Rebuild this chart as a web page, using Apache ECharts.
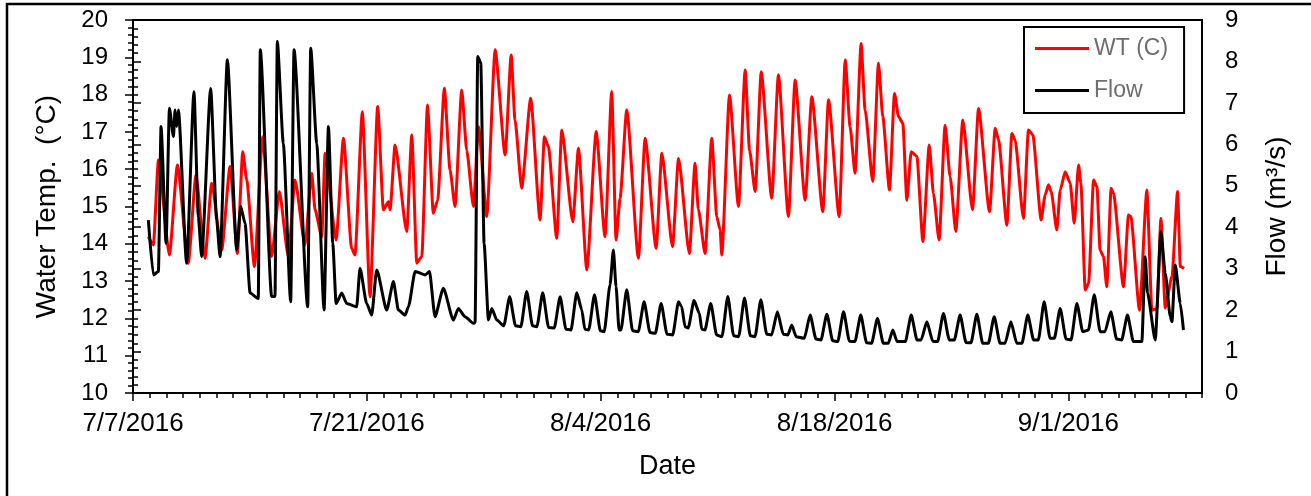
<!DOCTYPE html>
<html><head><meta charset="utf-8">
<script src="https://cdn.jsdelivr.net/npm/echarts@6/dist/echarts.min.js"></script>
<style>html,body{margin:0;padding:0;background:#fff}#c{width:1311px;height:496px}</style>
</head><body><div id="c"></div>
<script>
// days since 7/7/2016 00:00 and water temperature (°C)
const wtDay = [0.92,1.22,1.52,2.18,2.66,3.31,3.77,4.31,4.71,5.31,5.81,6.25,6.57,6.81,7.27,7.76,8.30,8.76,9.30,9.70,10.30,10.70,10.90,11.30,11.50,12.16,12.60,13.09,13.29,13.73,14.19,14.65,14.99,15.29,15.39,15.69,16.39,16.69,16.99,17.29,17.63,17.98,18.24,18.64,18.98,19.28,19.68,19.98,20.38,20.68,21.18,21.68,22.28,22.64,22.87,23.27,23.81,24.37,24.63,24.87,25.37,25.67,26.33,26.67,27.17,27.73,28.26,28.66,28.92,29.16,29.56,30.26,30.66,31.32,31.66,32.30,32.66,33.31,33.65,33.85,34.25,34.65,34.95,35.15,35.25,35.71,36.25,36.65,36.91,37.25,37.61,38.24,38.64,39.24,39.64,40.24,40.64,41.30,41.64,42.28,42.64,42.93,43.23,43.59,43.83,44.29,44.63,44.89,45.29,45.59,45.83,46.09,46.33,46.59,46.93,47.29,47.67,47.92,48.26,48.62,48.92,49.26,49.68,50.26,50.62,51.28,51.62,51.82,52.32,52.62,52.81,53.31,53.61,53.87,54.37,54.61,54.81,54.97,55.31,55.51,55.81,56.11,56.35,56.61,56.75,57.01,57.21,57.51,57.71,57.90,58.10,58.30,58.56,58.70,59.30,59.60,59.74,60.26,60.70,61.00,61.30,61.54,61.80,62.20,62.54,62.70,62.93];
const wtTemp = [14.19,13.97,16.25,13.70,16.11,13.48,15.84,13.61,15.62,13.83,16.07,13.74,16.47,15.71,13.39,16.87,13.66,15.40,13.66,15.71,13.97,15.89,14.91,14.19,16.43,14.10,16.83,13.88,13.70,17.54,12.58,17.68,14.91,15.13,14.91,16.65,14.33,16.92,13.48,13.66,17.72,14.82,15.17,18.17,15.98,15.00,18.12,16.51,15.00,17.14,14.73,19.20,16.38,19.06,17.32,15.49,17.90,14.64,16.87,16.60,14.15,17.05,14.59,16.56,13.30,17.01,14.19,18.08,14.10,15.22,17.59,13.61,16.83,13.88,16.43,13.92,16.29,13.74,16.16,14.91,13.74,16.83,14.73,14.37,13.70,17.99,15.00,18.66,16.51,15.40,18.61,15.22,18.53,14.73,18.39,15.17,17.94,14.86,17.86,14.73,18.93,17.14,15.89,19.37,17.59,15.67,18.84,17.41,15.44,18.03,17.41,17.23,15.17,16.47,16.34,14.06,16.65,15.35,14.10,17.18,15.80,14.33,17.32,14.91,17.63,14.86,17.10,16.78,14.50,16.96,16.78,14.68,17.05,16.92,14.64,15.31,15.58,15.40,14.37,15.44,15.93,15.62,14.55,16.11,15.62,12.76,12.94,15.71,15.53,13.83,13.66,12.85,15.49,15.35,12.85,14.77,14.73,12.22,15.44,12.22,12.26,14.68,12.28,13.12,15.40,13.39,13.34];
// days since 7/7/2016 00:00 and flow (m³/s)
const flowDay = [0.92,1.22,1.52,1.68,1.98,2.18,2.42,2.52,2.62,2.72,3.21,3.65,3.91,4.11,4.65,5.01,5.21,5.65,6.21,6.45,6.71,7.01,7.50,7.62,8.30,8.50,8.64,9.00,9.44,9.64,10.46,10.64,11.00,11.44,11.70,11.96,12.16,12.50,12.79,13.39,13.59,13.99,14.29,14.59,15.19,15.59,15.89,16.29,16.49,16.89,17.49,17.75,18.08,18.58,19.18,19.48,19.88,20.38,20.48,20.64,20.82,21.02,21.28,21.48,21.78,
  22.20,22.55,22.90,23.22,23.57,23.92,24.18,24.53,24.88,25.22,25.57,25.92,26.22,26.57,26.87,27.05,27.28,27.63,27.98,28.21,28.56,28.76,28.92,29.10,29.21,29.56,29.91,30.25,30.60,30.95,31.27,31.62,31.97,32.31,32.66,32.85,33.05,33.24,33.59,33.91,34.05,34.24,34.59,34.94,35.26,35.61,35.96,36.26,36.61,36.96,37.24,37.59,37.94,38.23,38.58,38.93,39.20,39.44,39.70,40.19,40.54,40.89,41.19,41.54,41.89,42.19,42.54,42.89,43.22,43.57,43.92,44.22,44.57,44.92,45.22,45.49,45.75,46.24,46.59,46.94,47.18,47.53,47.88,48.17,48.52,48.87,49.17,49.52,49.87,50.17,50.52,50.87,51.21,51.56,51.91,52.21,52.56,52.91,53.22,53.57,53.92,54.20,54.55,54.90,55.16,55.51,55.86,56.16,56.51,56.86,57.20,57.55,57.90,58.19,58.54,58.89,59.19,59.54,59.89,60.40,60.60,60.74,61.20,61.54,61.80,62.10,62.20,62.40,62.70,62.89];
const flowRate = [4.17,2.85,2.93,6.43,3.61,6.87,6.19,6.83,6.43,6.83,3.13,7.27,4.25,3.29,7.35,4.17,3.29,8.04,3.45,4.50,4.09,2.41,2.28,8.28,2.33,2.33,8.48,6.02,2.20,8.28,2.08,8.32,6.02,2.00,6.43,3.61,2.16,2.41,2.16,2.08,3.01,2.16,1.88,2.97,2.00,2.69,2.00,1.88,2.08,2.93,2.85,2.93,1.84,2.53,1.76,2.04,1.84,1.68,1.70,8.12,7.96,3.61,1.76,2.04,1.76,
  1.62,2.32,1.62,1.60,2.45,1.62,1.60,2.42,1.58,1.57,2.32,1.54,1.52,2.42,2.00,1.54,1.52,2.37,1.50,1.48,2.61,3.45,2.57,1.52,1.52,2.49,1.50,1.48,2.20,1.46,1.44,2.16,1.42,1.40,2.20,2.08,1.60,1.57,2.23,1.92,1.54,1.52,2.16,1.40,1.36,2.33,1.38,1.36,2.29,1.38,1.36,2.25,1.42,1.40,1.96,1.42,1.40,1.64,1.36,1.32,1.88,1.30,1.28,1.90,1.26,1.24,1.96,1.25,1.24,1.88,1.21,1.20,1.80,1.20,1.20,1.52,1.24,1.24,1.88,1.28,1.28,1.72,1.25,1.24,1.92,1.28,1.28,1.88,1.22,1.21,1.90,1.20,1.20,1.84,1.20,1.20,1.72,1.20,1.20,1.88,1.28,1.28,2.20,1.32,1.32,2.04,1.30,1.28,2.16,1.48,1.52,2.37,1.48,1.48,1.96,1.30,1.28,1.88,1.24,1.24,3.29,2.41,1.28,3.89,2.89,1.84,1.72,3.09,2.16,1.52];
const xTickLabels = ['7/7/2016','7/21/2016','8/4/2016','8/18/2016','9/1/2016'];
const seriesNames = ['WT (C)', 'Flow'];

const font = '"Liberation Sans", Arial, sans-serif';
const chart = echarts.init(document.getElementById('c'), null, {renderer: 'canvas'});
const tickLine = {color: '#000', width: 1.5};
chart.setOption({
  animation: false,
  backgroundColor: '#fff',
  textStyle: {fontFamily: font},
  graphic: [{
    type: 'rect', silent: true, z: -10,
    shape: {x: 7, y: 4, width: 1400, height: 700},
    style: {fill: 'none', stroke: '#000', lineWidth: 2.5}
  }],
  grid: {left: 133, right: 109, top: 20, bottom: 103, show: true, borderColor: '#000', borderWidth: 2, backgroundColor: 'transparent'},
  legend: {
    orient: 'vertical', left: 1024, top: 27,
    padding: [10, 16, 11, 11], itemGap: 19, itemWidth: 54, itemHeight: 3,
    borderColor: '#000', borderWidth: 2, backgroundColor: '#fff',
    icon: 'rect',
    textStyle: {fontSize: 23, color: '#6e6e6e', fontFamily: font},
    data: seriesNames
  },
  xAxis: [
    {type: 'value', min: 0, max: 64, interval: 1, position: 'bottom',
     axisLine: {show: true, lineStyle: {color: '#000', width: 2}},
     axisTick: {show: true, length: 5, lineStyle: tickLine},
     axisLabel: {show: false}, splitLine: {show: false}},
    {type: 'value', min: 0, max: 64, interval: 14, position: 'bottom',
     axisLine: {show: false},
     axisTick: {show: true, length: 8, lineStyle: tickLine},
     axisLabel: {fontSize: 26, color: '#000', margin: 18, showMaxLabel: false,
       formatter: v => (Number.isInteger(v / 14) && xTickLabels[v / 14]) ? xTickLabels[v / 14] : ''},
     splitLine: {show: false},
     name: 'Date', nameLocation: 'middle', nameGap: 60,
     nameTextStyle: {fontSize: 27, color: '#000'}}
  ],
  yAxis: [
    {type: 'value', min: 10, max: 20, interval: 1, position: 'left',
     axisLine: {show: true, lineStyle: {color: '#000', width: 2}},
     axisTick: {show: true, length: 8, lineStyle: tickLine},
     minorTick: {show: true, splitNumber: 5, length: 5, lineStyle: tickLine},
     axisLabel: {fontSize: 24, color: '#000', margin: 25},
     splitLine: {show: false},
     name: 'Water Temp.  (°C)', nameLocation: 'middle', nameGap: 72,
     nameTextStyle: {fontSize: 28, color: '#000'}},
    {type: 'value', min: 0, max: 9, interval: 1, position: 'right',
     axisLine: {show: true, lineStyle: {color: '#000', width: 2}},
     axisTick: {show: true, length: 8, lineStyle: tickLine},
     minorTick: {show: true, splitNumber: 5, length: 5, lineStyle: tickLine},
     axisLabel: {fontSize: 24, color: '#000', margin: 23},
     splitLine: {show: false},
     name: 'Flow (m³/s)', nameLocation: 'middle', nameGap: 61,
     nameTextStyle: {fontSize: 28, color: '#000'}}
  ],
  series: [
    {name: seriesNames[0], type: 'line', xAxisIndex: 0, yAxisIndex: 0,
     data: wtDay.map((d, i) => [d, wtTemp[i]]),
     symbol: 'none', smooth: 0.2, smoothMonotone: 'x',
     lineStyle: {color: '#ff0000', width: 3}, itemStyle: {color: '#ff0000'}, z: 2},
    {name: seriesNames[1], type: 'line', xAxisIndex: 0, yAxisIndex: 1,
     data: flowDay.map((d, i) => [d, flowRate[i]]),
     symbol: 'none', smooth: 0.2, smoothMonotone: 'x',
     lineStyle: {color: '#000', width: 3}, itemStyle: {color: '#000'}, z: 3}
  ]
});
</script>
</body></html>
